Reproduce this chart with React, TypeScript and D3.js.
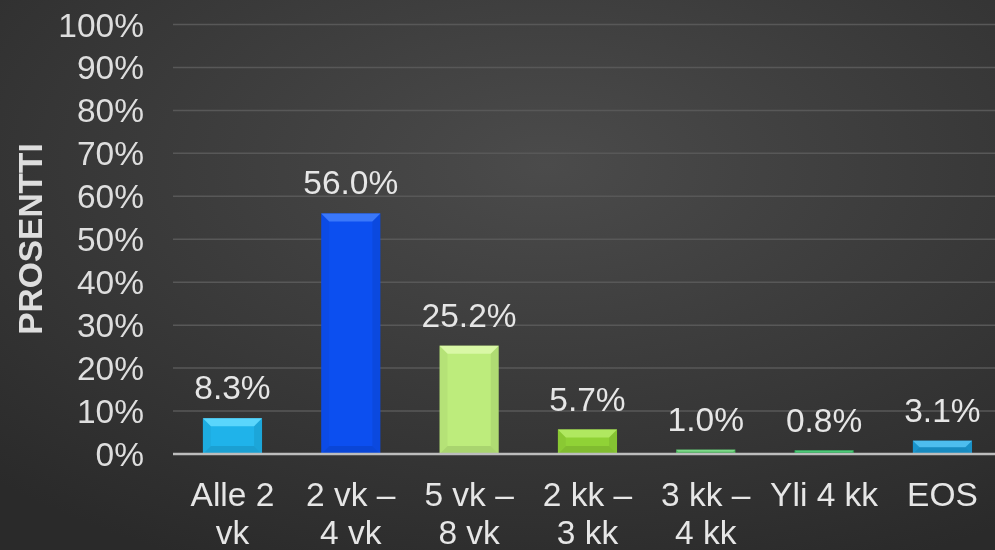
import React from "react";
import * as d3 from "d3";

const categories = ["Alle 2|vk", "2 vk –|4 vk", "5 vk –|8 vk", "2 kk –|3 kk", "3 kk –|4 kk", "Yli 4 kk", "EOS"];
const values = [8.3, 56.0, 25.2, 5.7, 1.0, 0.8, 3.1];
const barColors = ["#1fb3ea", "#0c4ff0", "#bdec7c", "#90d236", "#4fc262", "#22b556", "#1b9bd6"];
const topColors = ["#5ad6fc", "#3a78fa", "#d9f8a6", "#b0e860", "#7ed88a", "#4cca78", "#4dbdee"];
const yTicks = [0, 10, 20, 30, 40, 50, 60, 70, 80, 90, 100];
const axisTitle = "PROSENTTI";

const W = 995;
const H = 550;
const FONT = "'Liberation Sans', Arial, sans-serif";
const FS = 33.5;

export default function App() {
  const x = d3.scaleBand<string>().domain(categories).range([173.3, 1001.6]).paddingInner(0).paddingOuter(0);
  const y = d3.scaleLinear().domain([0, 100]).range([454, 24.5]);
  const bw = x.bandwidth() * 0.5;

  return (
    <svg width={W} height={H} style={{ position: "fixed", left: 0, top: 0, display: "block" }}>
      <defs>
        <radialGradient id="bg" cx="55%" cy="30%" r="80%">
          <stop offset="0%" stopColor="#4b4b4b" />
          <stop offset="100%" stopColor="#2a2a2a" />
        </radialGradient>
      </defs>
      <rect x={0} y={0} width={W} height={H} fill="url(#bg)" />
      {yTicks.map((t) => (
        <g key={t}>
          {t > 0 && (
            <line x1={173} x2={W} y1={y(t)} y2={y(t)} stroke="#585858" strokeWidth={1.5} />
          )}
          <text x={144} y={y(t) + 12} textAnchor="end" fill="#dedede" fontSize={FS} fontFamily={FONT}>
            {t}%
          </text>
        </g>
      ))}
      {categories.map((c, i) => {
        const x0 = (x(c) as number) + (x.bandwidth() - bw) / 2;
        const yt = y(values[i]);
        const h = y(0) - yt;
        const b = Math.min(8, h / 2);
        return (
          <g key={c}>
            <rect x={x0} y={yt} width={bw} height={h} fill={barColors[i]} />
            <polygon
              points={`${x0},${yt} ${x0 + bw},${yt} ${x0 + bw - b},${yt + b} ${x0 + b},${yt + b}`}
              fill={topColors[i]}
            />
            <polygon
              points={`${x0},${yt} ${x0 + b},${yt + b} ${x0 + b},${yt + h - b} ${x0},${yt + h}`}
              fill="#000"
              opacity={0.04}
            />
            <polygon
              points={`${x0 + bw},${yt} ${x0 + bw - b},${yt + b} ${x0 + bw - b},${yt + h - b} ${x0 + bw},${yt + h}`}
              fill="#000"
              opacity={0.07}
            />
            <polygon
              points={`${x0},${yt + h} ${x0 + b},${yt + h - b} ${x0 + bw - b},${yt + h - b} ${x0 + bw},${yt + h}`}
              fill="#000"
              opacity={0.1}
            />
            <text
              x={x0 + bw / 2}
              y={yt - 19}
              textAnchor="middle"
              fill="#e6e6e6"
              fontSize={FS}
              fontFamily={FONT}
            >
              {values[i].toFixed(1)}%
            </text>
            {c.split("|").map((ln, j) => (
              <text
                key={j}
                x={x0 + bw / 2}
                y={506 + j * 38}
                textAnchor="middle"
                fill="#e6e6e6"
                fontSize={FS}
                fontFamily={FONT}
              >
                {ln}
              </text>
            ))}
          </g>
        );
      })}
      <line x1={173} x2={W} y1={y(0)} y2={y(0)} stroke="#bdbdbd" strokeWidth={2.5} />
      <text
        transform={`translate(42, 239) rotate(-90)`}
        textAnchor="middle"
        fill="#dedede"
        fontSize={FS}
        fontWeight="bold"
        fontFamily={FONT}
      >
        {axisTitle}
      </text>
    </svg>
  );
}
